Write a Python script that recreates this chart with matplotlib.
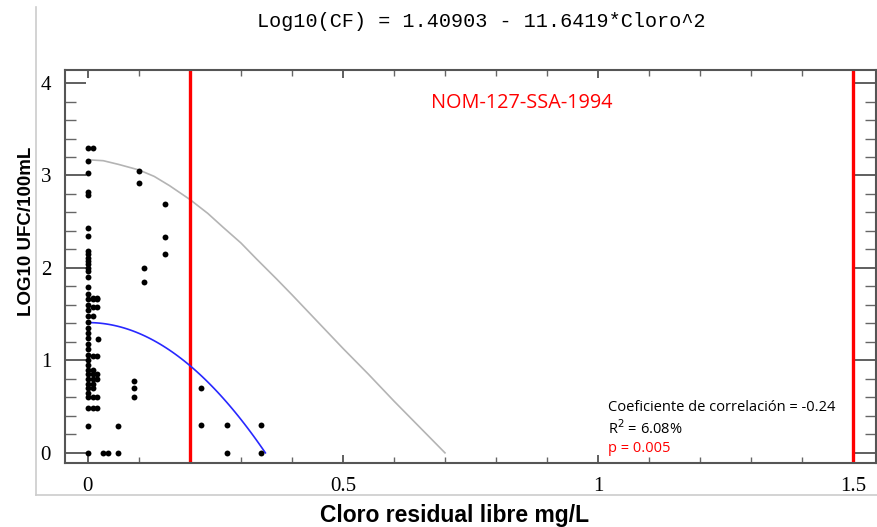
import numpy as np
import matplotlib.pyplot as plt
from matplotlib.lines import Line2D
from matplotlib.ticker import MultipleLocator, FixedLocator

# Observed samples: free residual chlorine (mg/L) vs log10 CFU/100 mL
cloro = [0, 0.009, 0, 0, 0, 0, 0.10, 0.10, 0.151, 0.151, 0.151, 0.11, 0.11,
         0, 0, 0, 0, 0, 0, 0, 0, 0, 0, 0.009, 0.018,
         0, 0, 0, 0, 0, 0, 0, 0, 0, 0, 0, 0, 0, 0, 0, 0, 0, 0, 0, 0, 0,
         0.009, 0.018, 0.009, 0.018, 0.009, 0.02, 0.009, 0.018, 0.009,
         0.009, 0.018, 0.009, 0.018, 0.009, 0.009,
         0, 0.009, 0.018, 0, 0.009, 0.018, 0, 0.059,
         0, 0.03, 0.04, 0.059, 0.09, 0.09, 0.09,
         0.221, 0.221, 0.272, 0.340, 0.272, 0.340]
log_ufc = [3.30, 3.30, 3.16, 3.03, 2.82, 2.79, 3.05, 2.92, 2.69, 2.33, 2.15, 2.00, 1.85,
           2.43, 2.35, 2.18, 2.15, 2.11, 2.07, 2.04, 2.00, 1.97, 1.90, 1.68, 1.68,
           1.79, 1.72, 1.66, 1.60, 1.55, 1.48, 1.42, 1.35, 1.30, 1.24, 1.18, 1.12,
           1.06, 1.00, 0.95, 0.90, 0.85, 0.80, 0.75, 0.70, 0.65,
           1.66, 1.66, 1.58, 1.58, 1.48, 1.23, 1.05, 1.05, 0.90,
           0.85, 0.85, 0.80, 0.80, 0.75, 0.70,
           0.60, 0.60, 0.60, 0.48, 0.48, 0.48, 0.29, 0.29,
           0, 0, 0, 0, 0.78, 0.70, 0.60,
           0.70, 0.30, 0.30, 0.30, 0, 0]

# Fitted model: Log10(CF) = b0 - b1*Cloro^2
b0 = 1.40903
b1 = 11.6419

# Upper band (grey line) read point by point
band_x = [0, 0.03, 0.06, 0.1, 0.13, 0.16, 0.2, 0.235, 0.265, 0.3, 0.33, 0.37,
          0.4, 0.45, 0.5, 0.55, 0.6, 0.65, 0.7]
band_y = [3.17, 3.16, 3.12, 3.06, 2.99, 2.89, 2.74, 2.59, 2.44, 2.27, 2.10, 1.88,
          1.71, 1.42, 1.13, 0.85, 0.56, 0.28, 0.0]

# NOM-127-SSA-1994 limits
limites = [0.2, 1.5]

fig = plt.figure(figsize=(8.78, 5.27), dpi=100)
ax = fig.add_axes([0.074, 0.1214, 0.9237, 0.7456])

ax.axvline(limites[0], color='#ff0000', lw=2.4, zorder=2)
ax.axvline(limites[1], color='#ff0000', lw=2.4, zorder=2)

ax.plot(band_x, band_y, color='#b4b4b4', lw=1.2, zorder=1)

xf = np.linspace(0, np.sqrt(b0 / b1), 60)
ax.plot(xf, b0 - b1 * xf ** 2, color='#2828ff', lw=1.2, zorder=3)

ax.scatter(cloro, log_ufc, s=18, color='black', zorder=4, linewidths=0)

ax.set_xlim(-0.045, 1.545)
ax.set_ylim(-0.11, 4.14)

ax.xaxis.set_major_locator(FixedLocator([0, 0.5, 1, 1.5]))
ax.xaxis.set_minor_locator(MultipleLocator(0.1))
ax.yaxis.set_major_locator(MultipleLocator(1))
ax.yaxis.set_minor_locator(MultipleLocator(0.2))
ax.set_xticklabels(['0', '0.5', '1', '1.5'])

ax.tick_params(axis='y', which='major', direction='in', length=15, width=1.2,
               color='#444444', right=True, pad=10)
ax.tick_params(axis='y', which='minor', direction='in', length=8, width=1.0,
               color='#666666', right=True)
ax.tick_params(axis='x', which='major', direction='in', length=6, width=1.2,
               color='#444444', top=True, pad=10)
ax.tick_params(axis='x', which='minor', direction='in', length=4, width=1.0,
               color='#666666', top=True)
for lab in ax.get_xticklabels() + ax.get_yticklabels():
    lab.set_fontfamily('Liberation Serif')
    lab.set_fontsize(15)

for sp in ax.spines.values():
    sp.set_color('#555555')
    sp.set_linewidth(1.5)

ax.set_xlabel('Cloro residual libre mg/L', fontsize=16.5, fontweight='bold',
              fontfamily='Liberation Sans')
ax.xaxis.set_label_coords(0.48, -0.105)
ax.set_ylabel('LOG10 UFC/100mL', fontsize=13.5, fontweight='bold',
              fontfamily='Liberation Sans')
ax.yaxis.set_label_coords(-0.037, 0.59)

ax.text(0.5635, 0.915, 'NOM-127-SSA-1994', color='#ff0000', fontsize=14.3,
        fontfamily='Open Sans', ha='center', va='center', transform=ax.transAxes)
ax.text(0.670, 0.142, 'Coeficiente de correlación = -0.24', fontsize=10.5,
        fontfamily='Open Sans', ha='left', va='center', transform=ax.transAxes)
ax.text(0.670, 0.087, 'R$^2$ = 6.08%', fontsize=10.5,
        fontfamily='Open Sans', ha='left', va='center', transform=ax.transAxes)
ax.text(0.670, 0.037, 'p = 0.005', color='#ff0000', fontsize=10.5,
        fontfamily='Open Sans', ha='left', va='center', transform=ax.transAxes)

fig.text(0.548, 0.960, 'Log10(CF) = 1.40903 - 11.6419*Cloro^2', fontsize=14.5,
         fontfamily='Liberation Mono', ha='center', va='center')

# thin grey frame around the graph area
fig.add_artist(Line2D([36 / 878, 36 / 878], [1 - 7 / 527, 1 - 495 / 527],
                      color='#cccccc', lw=1.2))
fig.add_artist(Line2D([36 / 878, 1.0], [1 - 495 / 527, 1 - 495 / 527],
                      color='#cccccc', lw=1.2))

fig.savefig('out.png', dpi=100)
